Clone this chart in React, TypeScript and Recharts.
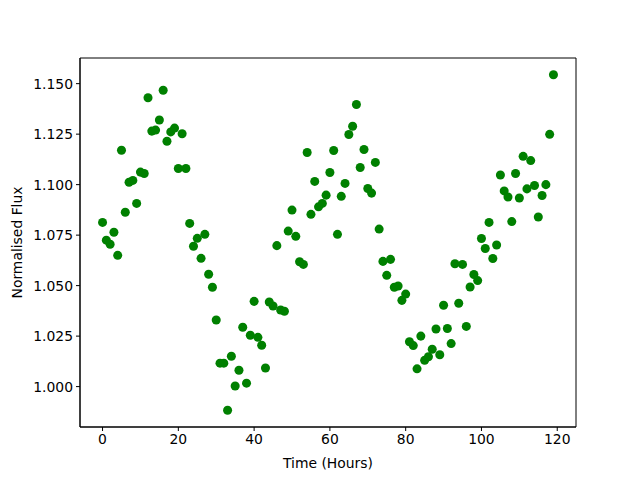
import { ScatterChart, Scatter, XAxis, YAxis, ZAxis, ReferenceArea } from 'recharts';

const hours: number[] = Array.from({ length: 120 }, (_, i) => i);

const flux: number[] = [
  1.0813, 1.0725, 1.0705, 1.0764, 1.065, 1.117, 1.0863, 1.1012, 1.1021, 1.0907,
  1.1062, 1.1055, 1.143, 1.1265, 1.127, 1.132, 1.1467, 1.1215, 1.1261, 1.128,
  1.108, 1.1252, 1.108, 1.0808, 1.0695, 1.0734, 1.0635, 1.0754, 1.0556, 1.0492,
  1.033, 1.0116, 1.0116, 0.9883, 1.015, 1.0003, 1.0081, 1.0294, 1.0017, 1.0254,
  1.0422, 1.0244, 1.0205, 1.0092, 1.0419, 1.0399, 1.0698, 1.0379, 1.0373, 1.077,
  1.0874, 1.0744, 1.0618, 1.0605, 1.1159, 1.0853, 1.1016, 1.089, 1.0907, 1.0948,
  1.106, 1.1169, 1.0754, 1.0942, 1.1006, 1.1248, 1.1289, 1.1397, 1.1085, 1.1174,
  1.0981, 1.0958, 1.111, 1.078, 1.062, 1.0551, 1.063, 1.0492, 1.0498, 1.0427,
  1.0458, 1.0222, 1.0203, 1.0088, 1.025, 1.013, 1.0148, 1.0185, 1.0285, 1.0158,
  1.0403, 1.0288, 1.0213, 1.0608, 1.0413, 1.0605, 1.0298, 1.0493, 1.0555, 1.0525,
  1.0733, 1.0684, 1.0813, 1.0634, 1.0701, 1.1048, 1.0969, 1.0939, 1.0817, 1.1055,
  1.0934, 1.114, 1.0979, 1.1119, 1.0996, 1.084, 1.0946, 1.1, 1.1249, 1.1544,
];

const xTicks = [0, 20, 40, 60, 80, 100, 120];
const yTicks = [1.0, 1.025, 1.05, 1.075, 1.1, 1.125, 1.15];

const points = hours.map((h, i) => ({ time: h, flux: flux[i] }));

const X_MIN = -5.95;
const X_MAX = 124.95;
const Y_MIN = 0.98;
const Y_MAX = 1.1627;

const font = { fontFamily: 'DejaVu Sans', fontSize: 13.9, fill: '#000' };

export default function App() {
  return (
    <div style={{ position: 'absolute', left: 0, top: 0, width: 640, height: 480, background: '#fff' }}>
      <ScatterChart width={640} height={480} margin={{ top: 58, right: 64, bottom: 8, left: 10 }}>
        <XAxis
          type="number"
          dataKey="time"
          domain={[X_MIN, X_MAX]}
          ticks={xTicks}
          allowDataOverflow
          height={45}
          stroke="#000"
          tickSize={4}
          tickMargin={3}
          tick={font}
          label={{ value: 'Time (Hours)', position: 'insideBottom', offset: 4, style: font }}
        />
        <YAxis
          type="number"
          dataKey="flux"
          domain={[Y_MIN, Y_MAX]}
          ticks={yTicks}
          allowDataOverflow
          width={70}
          stroke="#000"
          tickSize={4}
          tickMargin={3}
          tick={font}
          tickFormatter={(v: number) => v.toFixed(3)}
          label={{ value: 'Normalised Flux', angle: -90, position: 'insideLeft', offset: 7, style: { ...font, textAnchor: 'middle' } }}
        />
        <ZAxis range={[64, 64]} />
        <ReferenceArea x1={X_MIN} x2={X_MAX} y1={Y_MIN} y2={Y_MAX} fill="none" stroke="#000" strokeWidth={1} />
        <Scatter data={points} fill="#008000" shape="circle" isAnimationActive={false} />
      </ScatterChart>
    </div>
  );
}
